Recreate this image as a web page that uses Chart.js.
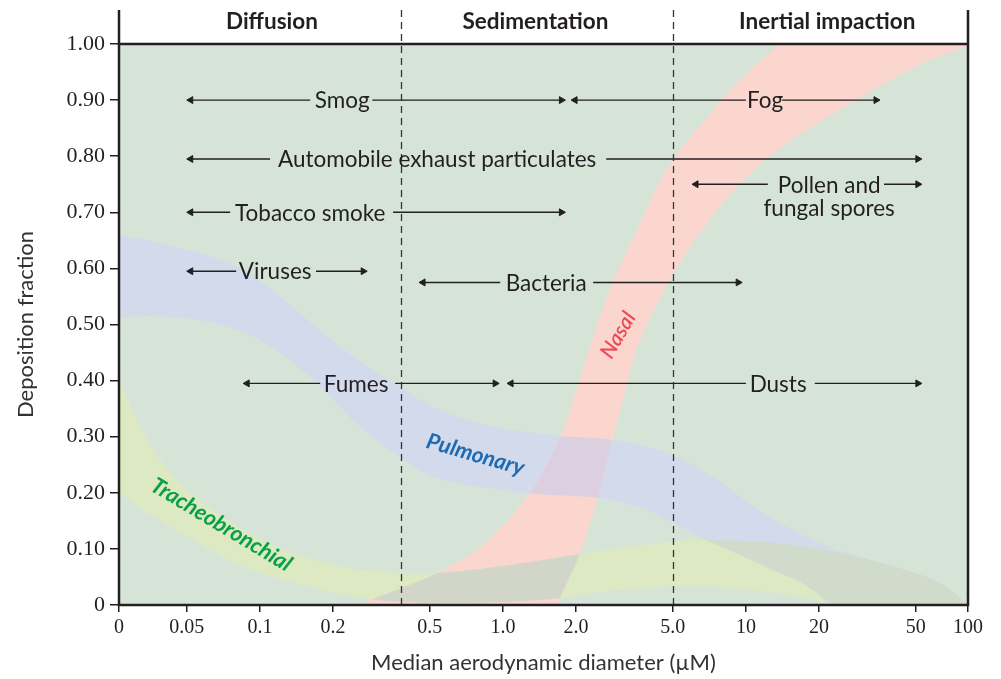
<!DOCTYPE html>
<html>
<head>
<meta charset="utf-8">
<script src="https://cdn.jsdelivr.net/npm/chart.js@4.4.1/dist/chart.umd.min.js"></script>
<style>
html, body { margin: 0; padding: 0; background: #fff; }
#wrap { position: relative; width: 1001px; height: 679px; }
</style>
</head>
<body>
<div id="wrap"><canvas id="chart" width="1001" height="679"></canvas></div>
<script>
// x axis is logarithmic; the drawing labels its two ends "0" and "100"
var xTickValues = [0.0263, 0.05, 0.1, 0.2, 0.5, 1, 2, 5, 10, 20, 50, 82];
var xTickLabels = ['0', '0.05', '0.1', '0.2', '0.5', '1.0', '2.0', '5.0', '10', '20', '50', '100'];
var yTickLabels = ['0', '0.10', '0.20', '0.30', '0.40', '0.50', '0.60', '0.70', '0.80', '0.90', '1.00'];

var regionNames = ['Diffusion', 'Sedimentation', 'Inertial impaction'];
var regionLabelX = [0.112, 1.36, 21.6];
var regionBounds = [0.38, 5];

// bands: one edge going right, the other coming back
var nasalBand = [
    [0.24, -0.03], [0.266, 0], [0.367, 0.027], [0.536, 0.057], [0.806, 0.103], [1.29, 0.2],
    [1.72, 0.299], [2.08, 0.406], [2.685, 0.549], [3.67, 0.681], [4.79, 0.781], [6.92, 0.87],
    [9.47, 0.936], [12.9, 0.989], [16.5, 1.03], [110, 1.04],
    [95, 1.01], [53.6, 0.966], [33.4, 0.918], [17.9, 0.847], [11.1, 0.781], [6.92, 0.681],
    [4.79, 0.574], [3.57, 0.46], [3.12, 0.365], [2.84, 0.299], [2.44, 0.187], [2.08, 0.093],
    [1.67, 0], [1.6, -0.03]
];
var pulmonaryBand = [
    [0.022, 0.66], [0.0266, 0.658], [0.0456, 0.638], [0.0853, 0.597], [0.137, 0.531], [0.189, 0.478],
    [0.3035, 0.414], [0.3775, 0.389], [0.516, 0.353], [0.806, 0.324], [1.56, 0.303], [2.84, 0.294],
    [4.74, 0.271], [7.33, 0.228], [11.8, 0.164], [18.9, 0.116], [26.1, 0.093], [46, 0.062],
    [63, 0.039], [82, 0], [95, -0.03],
    [23, -0.03], [22.2, 0], [16.7, 0.041], [12.9, 0.062], [9.47, 0.089], [6.48, 0.121],
    [4.79, 0.152], [3.67, 0.173], [2.44, 0.191], [1.56, 0.196], [0.974, 0.205], [0.516, 0.228],
    [0.3775, 0.264], [0.2585, 0.317], [0.161, 0.406], [0.1, 0.472], [0.0624, 0.504], [0.0353, 0.515],
    [0.0266, 0.513], [0.022, 0.512]
];
var tracheoBand = [
    [0.022, 0.45], [0.0266, 0.396], [0.0331, 0.307], [0.0456, 0.223], [0.0733, 0.152], [0.118, 0.103],
    [0.22, 0.068], [0.3775, 0.057], [0.536, 0.057], [0.9465, 0.068], [2.08, 0.091], [4.74, 0.112],
    [6.48, 0.116], [12.9, 0.111], [24.4, 0.093], [46, 0.062], [63, 0.039], [82, 0], [95, -0.03],
    [24, -0.03], [23.3, 0], [20.2, 0.007], [12.6, 0.023], [6.48, 0.032], [3.04, 0.027], [1.72, 0.012],
    [0.97, 0.005], [0.5, 0.004], [0.3035, 0.009], [0.161, 0.032], [0.0853, 0.068], [0.0531, 0.116],
    [0.0331, 0.169], [0.0266, 0.2], [0.022, 0.235]
];

var bandNames = ['Nasal', 'Pulmonary', 'Tracheobronchial'];
var bandColors = ['#fbd6cf', '#d3daec', '#dde9c2'];
var bandTextColors = ['#ee4a55', '#1c6bb4', '#0aa04a'];
var bandLabelX = [2.98, 0.77, 0.0693];
var bandLabelY = [0.481, 0.268, 0.143];
var bandLabelAngle = [-60, 16, 31];
// [band a, band b, colour where they overlap]
var overlaps = [[0, 2, '#d1d6c9'], [1, 2, '#d1dbcb'], [0, 1, '#dccfdf']];

var arrowLabels = ['Smog', 'Fog', 'Automobile exhaust particulates', 'Pollen and\nfungal spores',
    'Tobacco smoke', 'Viruses', 'Bacteria', 'Fumes', 'Dusts'];
var arrowY = [0.9, 0.9, 0.795, 0.75, 0.7, 0.595, 0.575, 0.395, 0.395];
var arrowFrom = [0.0519, 1.98, 0.0519, 6.23, 0.0519, 0.0519, 0.469, 0.0886, 1.08];
var gapFrom = [0.161, 10.0, 0.11, 12.3, 0.0754, 0.0798, 0.974, 0.177, 10.0];
var gapTo = [0.29, 14.1, 2.66, 37.0, 0.353, 0.17, 2.35, 0.36, 19.2];
var arrowTo = [1.74, 34.3, 51, 51, 1.74, 0.266, 9.29, 0.929, 51];
var labelX = [0.218, 12.0, 0.536, 22.0, 0.161, 0.1155, 1.506, 0.2488, 13.57];

var ink = '#231f20';
var sans = 'Lato, "Noto Sans", sans-serif';
var serif = '"Liberation Serif", "DejaVu Serif", serif';

function toPoints(band) {
    return band.map(function (p) { return { x: p[0], y: p[1] }; });
}

var datasets = [];
arrowLabels.forEach(function (name, i) {
    datasets.push({
        label: name,
        data: [
            { x: arrowFrom[i], y: arrowY[i] },
            { x: gapFrom[i], y: arrowY[i] },
            { x: Math.sqrt(gapFrom[i] * gapTo[i]), y: null },
            { x: gapTo[i], y: arrowY[i] },
            { x: arrowTo[i], y: arrowY[i] }
        ],
        borderColor: ink,
        borderWidth: 1.4,
        pointStyle: 'triangle',
        pointRadius: [4, 0, 0, 0, 4],
        pointRotation: [-90, 0, 0, 0, 90],
        pointBackgroundColor: ink,
        pointBorderColor: ink,
        pointBorderWidth: 1,
        tension: 0,
        fill: false,
        order: 0
    });
});
[nasalBand, pulmonaryBand, tracheoBand].forEach(function (band, i) {
    datasets.push({
        label: bandNames[i],
        data: toPoints(band),
        backgroundColor: bandColors[i],
        borderColor: 'rgba(0,0,0,0)',
        borderWidth: 0,
        pointRadius: 0,
        tension: 0.35,
        fill: 'shape',
        order: 10
    });
});
var firstBand = arrowLabels.length;

var decor = {
    id: 'decor',
    beforeDraw: function (chart) {
        var a = chart.chartArea, ctx = chart.ctx;
        ctx.save();
        ctx.fillStyle = '#d6e4d8';
        ctx.fillRect(a.left, a.top, a.right - a.left, a.bottom - a.top);
        ctx.restore();
    },
    afterDatasetsDraw: function (chart) {
        var a = chart.chartArea, ctx = chart.ctx;
        var xs = chart.scales.x;

        overlaps.forEach(function (o) {
            var l1 = chart.getDatasetMeta(firstBand + o[0]).dataset;
            var l2 = chart.getDatasetMeta(firstBand + o[1]).dataset;
            ctx.save();
            ctx.beginPath();
            ctx.rect(a.left, a.top, a.right - a.left, a.bottom - a.top);
            ctx.clip();
            ctx.beginPath();
            l1.path(ctx);
            ctx.closePath();
            ctx.clip();
            ctx.beginPath();
            l2.path(ctx);
            ctx.closePath();
            ctx.fillStyle = o[2];
            ctx.fill();
            ctx.restore();
        });

        // region separators
        ctx.save();
        ctx.strokeStyle = '#333';
        ctx.lineWidth = 1.3;
        ctx.setLineDash([7, 5]);
        regionBounds.forEach(function (v) {
            var px = Math.round(xs.getPixelForValue(v)) + 0.5;
            ctx.beginPath();
            ctx.moveTo(px, 10);
            ctx.lineTo(px, a.bottom);
            ctx.stroke();
        });
        ctx.restore();

        // frame
        ctx.save();
        ctx.strokeStyle = ink;
        ctx.lineWidth = 2.5;
        ctx.beginPath();
        ctx.moveTo(a.left, 10);
        ctx.lineTo(a.left, a.bottom);
        ctx.lineTo(a.right, a.bottom);
        ctx.lineTo(a.right, 10);
        ctx.moveTo(a.left, a.top);
        ctx.lineTo(a.right, a.top);
        ctx.stroke();
        ctx.restore();
    },
    afterDraw: function (chart) {
        var a = chart.chartArea, ctx = chart.ctx;
        var xs = chart.scales.x, ys = chart.scales.y;
        ctx.save();
        ctx.textAlign = 'center';
        ctx.textBaseline = 'middle';

        ctx.fillStyle = ink;
        ctx.font = 'bold 22.5px ' + sans;
        regionNames.forEach(function (t, i) {
            ctx.fillText(t, xs.getPixelForValue(regionLabelX[i]), a.top - 22);
        });

        ctx.font = '22.5px ' + sans;
        arrowLabels.forEach(function (t, i) {
            var lines = t.split('\n');
            var px = xs.getPixelForValue(labelX[i]);
            var py = ys.getPixelForValue(arrowY[i]);
            lines.forEach(function (line, k) {
                ctx.fillText(line, px, py + 1 + k * 23);
            });
        });

        bandNames.forEach(function (t, i) {
            ctx.save();
            ctx.translate(xs.getPixelForValue(bandLabelX[i]), ys.getPixelForValue(bandLabelY[i]));
            ctx.rotate(bandLabelAngle[i] * Math.PI / 180);
            ctx.fillStyle = bandTextColors[i];
            ctx.font = (i === 0 ? 'italic 600 21px ' : 'italic bold 22px ') + sans;
            ctx.fillText(t, 0, 0);
            ctx.restore();
        });
        ctx.restore();
    }
};

var ctx = document.querySelector('#chart').getContext('2d');
var depositionChart = new Chart(ctx, {
    type: 'line',
    data: { datasets: datasets },
    options: {
        responsive: false,
        animation: false,
        events: [],
        layout: { padding: { top: 44, right: 33, left: 0, bottom: 0 } },
        elements: { line: { capBezierPoints: false } },
        plugins: {
            legend: { display: false },
            tooltip: { enabled: false }
        },
        scales: {
            x: {
                type: 'logarithmic',
                min: xTickValues[0],
                max: xTickValues[xTickValues.length - 1],
                afterBuildTicks: function (scale) {
                    scale.ticks = xTickValues.map(function (v) { return { value: v }; });
                },
                afterFit: function (scale) { scale.height = 74; },
                ticks: {
                    autoSkip: false,
                    maxRotation: 0,
                    padding: 4,
                    color: ink,
                    font: { family: serif, size: 20 },
                    callback: function (v, i) { return xTickLabels[i]; }
                },
                grid: { drawOnChartArea: false, drawTicks: true, tickLength: 7, color: ink, lineWidth: 1.5 },
                border: { display: false },
                title: {
                    display: true,
                    text: 'Median aerodynamic diameter (µM)',
                    color: '#333',
                    font: { family: sans, size: 22 },
                    padding: { top: 0, bottom: 3 }
                }
            },
            y: {
                min: 0,
                max: 1,
                afterFit: function (scale) { scale.width = 119; },
                ticks: {
                    stepSize: 0.1,
                    padding: 5,
                    color: ink,
                    font: { family: serif, size: 22 },
                    callback: function (v, i) { return yTickLabels[i]; }
                },
                grid: { drawOnChartArea: false, drawTicks: true, tickLength: 9, color: ink, lineWidth: 1.5 },
                border: { display: false },
                title: {
                    display: true,
                    text: 'Deposition fraction',
                    color: '#333',
                    font: { family: sans, size: 22 },
                    padding: { top: 13, bottom: 0 }
                }
            }
        }
    },
    plugins: [decor]
});
</script>
</body>
</html>
